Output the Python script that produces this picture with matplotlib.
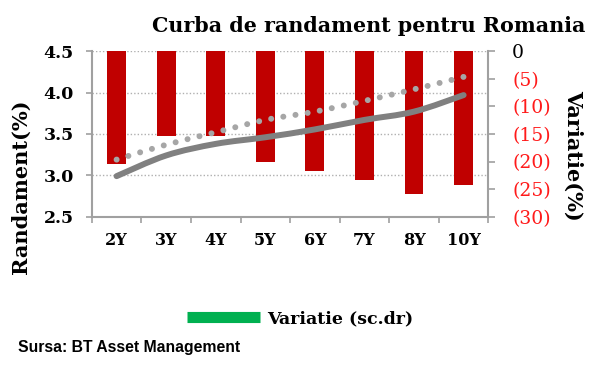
import matplotlib
matplotlib.use("Agg")
import matplotlib.pyplot as plt
from matplotlib.lines import Line2D
from matplotlib.path import Path
from matplotlib.patches import PathPatch

categories = ["2Y", "3Y", "4Y", "5Y", "6Y", "7Y", "8Y", "10Y"]
variatie = [-20.4, -15.4, -15.4, -20.1, -21.8, -23.3, -25.9, -24.3]
yield_now = [2.99, 3.24, 3.38, 3.46, 3.555, 3.67, 3.77, 3.97]
yield_prev = [3.19, 3.37, 3.52, 3.67, 3.77, 3.90, 4.04, 4.19]
left_ticks = [2.5, 3.0, 3.5, 4.0, 4.5]
right_ticks = [0, -5, -10, -15, -20, -25, -30]

serif = ["DejaVu Serif"]


def smooth_path(xs, ys):
    pts = list(zip(xs, ys))
    n = len(pts)
    verts = [pts[0]]
    codes = [Path.MOVETO]
    for i in range(n - 1):
        p0 = pts[i - 1] if i > 0 else pts[i]
        p1 = pts[i]
        p2 = pts[i + 1]
        p3 = pts[i + 2] if i + 2 < n else pts[i + 1]
        c1 = (p1[0] + (p2[0] - p0[0]) / 6, p1[1] + (p2[1] - p0[1]) / 6)
        c2 = (p2[0] - (p3[0] - p1[0]) / 6, p2[1] - (p3[1] - p1[1]) / 6)
        verts += [c1, c2, p2]
        codes += [Path.CURVE4] * 3
    return Path(verts, codes)


fig = plt.figure(figsize=(6.0, 3.66), dpi=100)
ax = fig.add_axes([0.153, 0.408, 0.661, 0.452])
ax2 = ax.twinx()
ax3 = ax.twinx()

x = list(range(len(categories)))
grey = "#a0a0a0"

# base axis
ax.set_xlim(-0.5, len(categories) - 0.5)
ax.set_ylim(2.5, 4.5)
ax.set_yticks(left_ticks)
ax.set_yticklabels([f"{v:.1f}" for v in left_ticks], fontfamily=serif,
                   fontweight="bold", fontsize=12.5)
for v in left_ticks[1:]:
    ax.axhline(v, color="#b0b0b0", linestyle=(0, (1, 1.5)), linewidth=1.0, zorder=0)
ax.set_xticks(x)
ax.set_xticklabels(categories, fontfamily=serif, fontweight="bold", fontsize=11.5)
ax.set_xticks([i - 0.5 for i in range(len(categories) + 1)], minor=True)
ax.tick_params(axis="x", which="major", length=0, pad=11)
ax.tick_params(axis="x", which="minor", length=4, color=grey, width=1.2)
ax.tick_params(axis="y", length=4, color=grey, width=1.2, pad=9)
for s in ["left", "bottom"]:
    ax.spines[s].set_color(grey)
    ax.spines[s].set_linewidth(1.5)
ax.spines["top"].set_visible(False)
ax.spines["right"].set_visible(False)
ax.set_ylabel("Randament(%)", fontfamily=serif, fontweight="bold", fontsize=15)
ax.yaxis.set_label_coords(-0.155, 0.18)

# bars on right axis
ax2.bar(x, variatie, width=0.38, color="#c00000", zorder=2)
ax2.set_ylim(-30, 0)
ax2.set_yticks(right_ticks)
ax2.set_yticklabels(["0" if v == 0 else f"({-v})" for v in right_ticks],
                    fontfamily=serif, fontsize=13.5)
for lbl, v in zip(ax2.get_yticklabels(), right_ticks):
    lbl.set_color("black" if v == 0 else "#ff1a1a")
ax2.tick_params(axis="y", length=5, color=grey, width=1.2, pad=12)
ax2.spines["right"].set_color(grey)
ax2.spines["right"].set_linewidth(1.5)
for s in ["top", "left", "bottom"]:
    ax2.spines[s].set_visible(False)
ax2.set_ylabel("Variatie(%)", fontfamily=serif, fontweight="bold", fontsize=15,
               rotation=270, va="center")
ax2.yaxis.set_label_coords(1.215, 0.37)

# lines on top
ax3.set_ylim(2.5, 4.5)
ax3.add_patch(PathPatch(smooth_path(x, yield_prev), fill=False, edgecolor="#a6a6a6",
                        linewidth=4.3, linestyle=(0, (0.01, 2.05)), capstyle="round"))
ax3.add_patch(PathPatch(smooth_path(x, yield_now), fill=False, edgecolor="#808080",
                        linewidth=4.3, capstyle="round"))
ax3.set_yticks([])
for s in ax3.spines.values():
    s.set_visible(False)

fig.text(0.975, 0.93, "Curba de randament pentru Romania", ha="right", va="center",
         fontfamily=serif, fontweight="bold", fontsize=14.9)

handle = Line2D([], [], color="#00b050", linewidth=8, solid_capstyle="butt")
fig.legend([handle], ["Variatie (sc.dr)"], loc="center", bbox_to_anchor=(0.5, 0.13),
           frameon=False, handlelength=4.2, handletextpad=0.4,
           prop={"family": serif, "weight": "bold", "size": 12.5})

fig.text(0.03, 0.05, "Sursa: BT Asset Management", ha="left", va="center",
         fontfamily=["Liberation Sans"], fontweight="bold", fontsize=11.3)

fig.savefig("out.png", dpi=100)
